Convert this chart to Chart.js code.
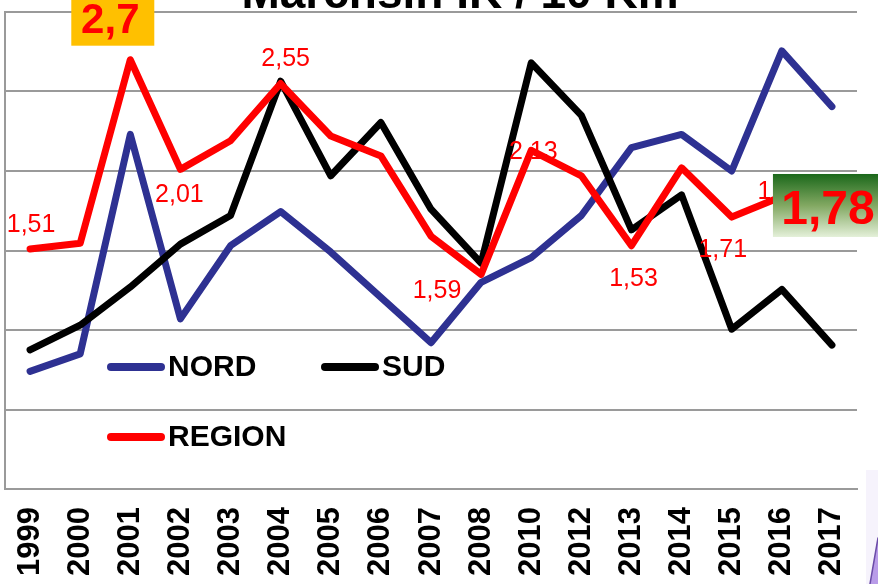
<!DOCTYPE html>
<html>
<head>
<meta charset="utf-8">
<title>Marchsin IK / 10 Km</title>
<script src="https://cdn.jsdelivr.net/npm/chart.js@4"></script>
<style>
  body { margin: 0; background: #fff; }
  #wrap { width: 878px; height: 584px; }
</style>
</head>
<body>
<div id="wrap"><canvas id="chart" width="878" height="584"></canvas></div>
<script>
const titleText = "Marchsin IK / 10 Km";
const years = ["1999", "2000", "2001", "2002", "2003", "2004", "2005", "2006", "2007",
               "2008", "2010", "2012", "2013", "2014", "2015", "2016", "2017"];
const nord   = [0.74, 0.85, 2.23, 1.07, 1.53, 1.745, 1.49, 1.205, 0.92, 1.30, 1.455, 1.72, 2.147, 2.23, 2.00, 2.755, 2.405];
const sud    = [0.875, 1.03, 1.27, 1.54, 1.72, 2.565, 1.97, 2.305, 1.76, 1.42, 2.68, 2.35, 1.63, 1.85, 1.005, 1.255, 0.905];
const region = [1.51, 1.545, 2.7, 2.01, 2.19, 2.55, 2.22, 2.095, 1.59, 1.35, 2.13, 1.97, 1.53, 2.02, 1.71, 1.84, 1.78];
const yMin = 0, yMax = 3, yStep = 0.5;

// which REGION points get a small red value label
const labelIdx = [0, 3, 5, 8, 10, 12, 14, 15];
const peakIdx = 2;   // boxed "2,7"
const lastIdx = 16;  // boxed "1,78"

// label offset from the point, px
const labelOffsets = {0: [1, -24], 3: [-1, 26], 5: [5, -24], 8: [6, 55], 10: [2, 2], 12: [2, 33], 14: [-9, 33], 15: [0, -4]};

const FONT = '"Liberation Sans", Arial, sans-serif';
Chart.defaults.font.family = FONT;

function fmt(v) {
    return String(v).replace(".", ",");
}

const overlay = {
    id: "overlay",
    afterDatasetsDraw(chart) {
        const ctx = chart.ctx;
        const xs = chart.scales.x, ys = chart.scales.y;
        ctx.save();

        // small value labels
        ctx.font = "25px " + FONT;
        ctx.fillStyle = "#ff0000";
        ctx.textAlign = "center";
        ctx.textBaseline = "middle";
        labelIdx.forEach(i => {
            const off = labelOffsets[i];
            ctx.fillText(fmt(region[i]), xs.getPixelForValue(i) + off[0], ys.getPixelForValue(region[i]) + off[1]);
        });

        // legend inside the plot
        const items = [{ d: 0, x: 107, y: 367 }, { d: 1, x: 321, y: 367 }, { d: 2, x: 107, y: 437 }];
        ctx.font = "bold 30px " + FONT;
        ctx.textAlign = "left";
        ctx.lineCap = "round";
        items.forEach(it => {
            const ds = chart.data.datasets[it.d];
            ctx.strokeStyle = ds.borderColor;
            ctx.lineWidth = 8;
            ctx.beginPath();
            ctx.moveTo(it.x + 4, it.y);
            ctx.lineTo(it.x + 54, it.y);
            ctx.stroke();
            ctx.fillStyle = "#000";
            ctx.fillText(ds.label, it.x + 61, it.y + 1);
        });

        // yellow box with the 2001 peak
        let px = xs.getPixelForValue(peakIdx), py = ys.getPixelForValue(region[peakIdx]);
        ctx.fillStyle = "#ffc000";
        ctx.fillRect(px - 59, py - 62, 83, 48);
        ctx.fillStyle = "#ff0000";
        ctx.font = "bold 42px " + FONT;
        ctx.textAlign = "center";
        ctx.textBaseline = "alphabetic";
        ctx.fillText(fmt(region[peakIdx]), px - 20, py - 27);

        // green box with the last value
        px = xs.getPixelForValue(lastIdx); py = ys.getPixelForValue(region[lastIdx]);
        const top = py - 32, h = 63;
        const g = ctx.createLinearGradient(0, top, 0, top + h);
        g.addColorStop(0, "#1b681b");
        g.addColorStop(0.5, "#82a862");
        g.addColorStop(1, "#e4f0d9");
        ctx.fillStyle = g;
        ctx.fillRect(px - 59, top, chart.width - (px - 59), h);
        ctx.fillStyle = "#ff0000";
        ctx.font = "bold 48px " + FONT;
        ctx.fillText(fmt(region[lastIdx]), px - 4, py + 18);

        // title, cut at the top edge
        ctx.fillStyle = "#000";
        ctx.font = "bold 46px " + FONT;
        ctx.fillText(titleText, 460, 8);

        // purple corner decoration
        ctx.fillStyle = "rgba(210,195,240,0.2)";
        ctx.fillRect(866, 470, 12, 114);
        ctx.fillStyle = "#b99ce8";
        ctx.beginPath();
        ctx.moveTo(870, 584);
        ctx.lineTo(878, 538);
        ctx.lineTo(878, 584);
        ctx.closePath();
        ctx.fill();
        ctx.strokeStyle = "#6b4ca8";
        ctx.lineWidth = 1.5;
        ctx.beginPath();
        ctx.moveTo(870, 584);
        ctx.lineTo(878, 538);
        ctx.stroke();

        ctx.restore();
    }
};

function lineSet(label, data, color, order) {
    return {
        label: label,
        data: data,
        borderColor: color,
        backgroundColor: color,
        borderWidth: 7,
        pointRadius: 0,
        tension: 0,
        borderCapStyle: "round",
        borderJoinStyle: "round",
        order: order
    };
}

const ctx = document.getElementById("chart").getContext("2d");
const chart = new Chart(ctx, {
    type: "line",
    data: {
        labels: years,
        datasets: [
            lineSet("NORD", nord, "#2e3192", 3),
            lineSet("SUD", sud, "#000000", 2),
            lineSet("REGION", region, "#ff0000", 1)
        ]
    },
    options: {
        responsive: false,
        animation: false,
        layout: { padding: { top: 12, right: 21, left: 0, bottom: 0 } },
        plugins: {
            legend: { display: false },
            title: { display: false },
            tooltip: { enabled: false }
        },
        scales: {
            x: {
                offset: true,
                grid: { display: false, drawTicks: false },
                border: { display: true, color: "#9a9a9a", width: 2 },
                ticks: {
                    autoSkip: false,
                    minRotation: 90,
                    maxRotation: 90,
                    padding: 18,
                    color: "#000",
                    font: { size: 31, weight: "bold" }
                },
                afterFit: s => {
                    s.height = 95;
                    s.paddingLeft = 0;
                    s.paddingRight = 0;
                }
            },
            y: {
                min: yMin,
                max: yMax,
                ticks: { display: false, stepSize: yStep },
                grid: { color: "#9a9a9a", lineWidth: 2, drawTicks: false },
                border: { display: true, color: "#9a9a9a", width: 2 },
                afterFit: s => { s.width = 5; }
            }
        }
    },
    plugins: [overlay]
});
</script>
</body>
</html>
